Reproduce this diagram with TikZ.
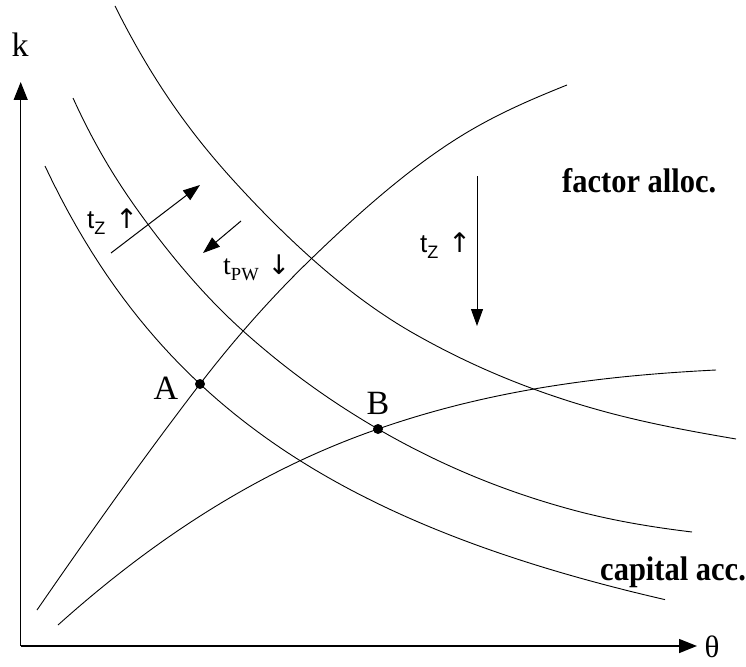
\documentclass[tikz,border=0pt]{standalone}
\usepackage{fontspec}
\setmainfont{Liberation Serif}
\newfontfamily\lsans{Liberation Sans}
\newfontfamily\djv{DejaVu Sans}
\usetikzlibrary{arrows.meta}
\begin{document}
\begin{tikzpicture}[x=1pt,y=-1pt,
  curve/.style={line width=0.9pt, line join=round},
  axisline/.style={line width=1.4pt, -{Triangle[length=18pt,width=14pt]}},
  shiftarrow/.style={line width=1pt, -{Triangle[length=17pt,width=12pt]}},
  lbl/.style={inner sep=0pt, font=\fontsize{34}{38}\selectfont},
  tlbl/.style={inner sep=0pt, font=\lsans\fontsize{26}{30}\selectfont},
  big/.style={inner sep=0pt, font=\bfseries\fontsize{30.5}{34}\selectfont},
  dot/.style={circle, fill=black, inner sep=0pt, minimum size=10pt}]
\useasboundingbox (0,0) rectangle (746,666);
% axes
\coordinate (O) at (20.7,646);
\coordinate (ytop) at (20.7,82);
\coordinate (xend) at (697,646);
\draw[axisline] (O) -- (ytop);
\draw[axisline] (O) -- (xend);
\node[lbl] (k) at (20,45) {k};
\node[lbl, font=\fontsize{31}{34}\selectfont] (theta) at (712,647) {θ};
% downward sloping curves
\draw[curve] plot[domain=45:665, samples=80] (\x, {812.9 - 1972.85/((\x+260)/100)});
\draw[curve] (73,98) .. controls (97.7,152.3) and (122.3,189.7) .. (147,223)
  .. controls (178.7,265.8) and (210.3,301.5) .. (242,330)
  .. controls (287.3,370.8) and (332.7,402.7) .. (378,429)
  .. controls (443,466.7) and (508,492.5) .. (573,510)
  .. controls (612.7,520.7) and (652.3,527.2) .. (692,532);
\draw[curve] (115,6) .. controls (154.3,84.7) and (193.7,136.7) .. (233,180)
  .. controls (293,246) and (353,298.8) .. (413,333)
  .. controls (477.3,369.7) and (541.7,394.6) .. (606,412)
  .. controls (649.3,423.7) and (692.7,431.6) .. (736,439);
% rising curves
\draw[curve] (37,610) .. controls (91.3,531.3) and (145.7,454.6) .. (200,384)
  .. controls (236.7,336.3) and (273.3,295.6) .. (310,260)
  .. controls (362,209.6) and (414,164.2) .. (466,133)
  .. controls (499.7,112.8) and (533.3,98.5) .. (567,85);
\draw[curve] (58,625) .. controls (165,529) and (271,466) .. (378,429)
  .. controls (490.7,389.6) and (603.3,375.6) .. (716,370);
% points
\node[dot] (A) at (200,384) {};
\node[dot] (B) at (378,429) {};
\node[lbl] (Alab) at (166,388) {A};
\node[lbl] (Blab) at (378,403) {B};
% shift arrows
\coordinate (s1a) at (111,253); \coordinate (s1b) at (200,185);
\coordinate (s2a) at (241,221); \coordinate (s2b) at (203,253);
\coordinate (s3a) at (477,176); \coordinate (s3b) at (477,326);
\draw[shiftarrow] (s1a) -- (s1b);
\draw[shiftarrow] (s2a) -- (s2b);
\draw[shiftarrow] (s3a) -- (s3b);
% labels
\node[tlbl, anchor=base west] (tz1) at (87,228) {t\raisebox{-6pt}{\fontsize{18}{18}\selectfont Z}\hspace{10pt}{\djv\fontsize{27}{30}\selectfont ↑}};
\node[tlbl, anchor=base west] (tpw) at (223,274) {\rmfamily\fontsize{28}{30}\selectfont t\raisebox{-6pt}{\fontsize{18.5}{18}\selectfont PW}\hspace{9pt}{\djv\fontsize{27}{30}\selectfont ↓}};
\node[tlbl, anchor=base west] (tz2) at (420,252) {t\raisebox{-6pt}{\fontsize{18}{18}\selectfont Z}\hspace{10pt}{\djv\fontsize{27}{30}\selectfont ↑}};
\node[big, anchor=base west] (fa) at (562,192) {\scalebox{1}[1.12]{factor alloc.}};
\node[big, anchor=base west] (ca) at (600,580) {\scalebox{1}[1.12]{capital acc.}};
\end{tikzpicture}
\end{document}
